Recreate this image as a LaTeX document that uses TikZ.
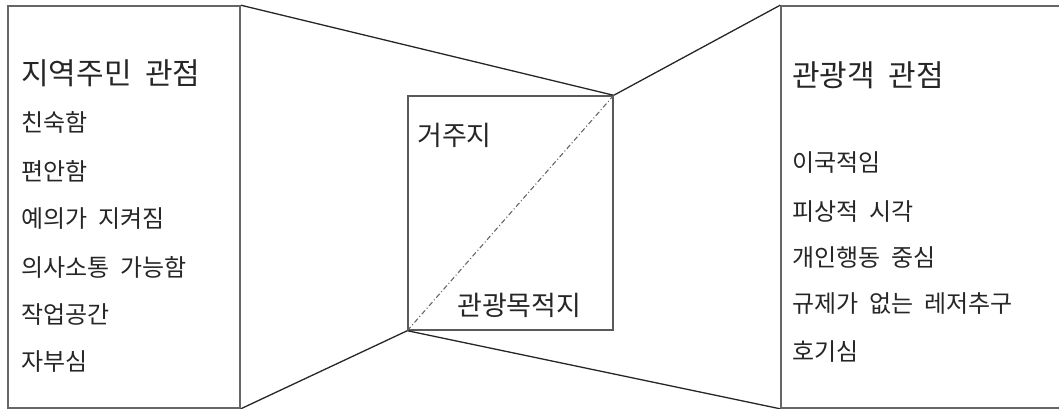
\documentclass[tikz,border=0pt]{standalone}
\usepackage{fontspec}
\setmainfont{Noto Sans CJK KR}[WordSpace=2]
\usetikzlibrary{positioning}

\begin{document}
\begin{tikzpicture}[x=1pt, y=-1pt]
\tikzstyle{side} = [rectangle, draw=gray!80!black, line width=1.6pt, inner sep=0pt, minimum height=402pt]
\tikzstyle{site} = [rectangle, draw=gray!70!black, line width=1.4pt, inner sep=0pt, minimum width=205pt, minimum height=234pt]
\tikzstyle{head} = [anchor=west, inner sep=0pt, text=black!85, font=\fontsize{30}{34}\selectfont]
\tikzstyle{item} = [anchor=west, inner sep=0pt, text=black!85, font=\fontsize{24}{28}\selectfont]
\tikzstyle{label} = [anchor=west, inner sep=0pt, text=black!85, font=\fontsize{27}{30}\selectfont]
\tikzstyle{edge} = [line width=1.3pt, black!85]
\tikzstyle{split} = [line width=1.1pt, gray!80!black, dash pattern=on 5pt off 2.5pt on 1pt off 2.5pt]

\useasboundingbox (0,0) rectangle (1059,409);

\node (resident) [side, minimum width=232pt] at (124,207) {};
\node (tourist) [side, minimum width=290pt] at (926,207) {};
\node (dest) [site] at (510.5,213) {};

\node (rtitle) [head] at (21,73) {지역주민 관점};
\node (r1) [item] at (21,122) {친숙함};
\node (r2) [item] at (21,171) {편안함};
\node (r3) [item] at (21,219) {예의가 지켜짐};
\node (r4) [item] at (21,267) {의사소통 가능함};
\node (r5) [item] at (21,315) {작업공간};
\node (r6) [item] at (21,362) {자부심};

\node (ttitle) [head] at (792,75) {관광객 관점};
\node (t1) [item] at (792,163) {이국적임};
\node (t2) [item] at (792,212) {피상적 시각};
\node (t3) [item] at (792,258) {개인행동 중심};
\node (t4) [item] at (792,304) {규제가 없는 레저추구};
\node (t5) [item] at (792,352) {호기심};

\node (home) [label] at (417,135) {거주지};
\node (spot) [label] at (457,305) {관광목적지};

\draw [edge] (resident.north east) -- (dest.north east) -- (tourist.north west);
\draw [edge] (resident.south east) -- (dest.south west) -- (tourist.south west);
\draw [split] (dest.south west) -- (dest.north east);

\end{tikzpicture}
\end{document}
